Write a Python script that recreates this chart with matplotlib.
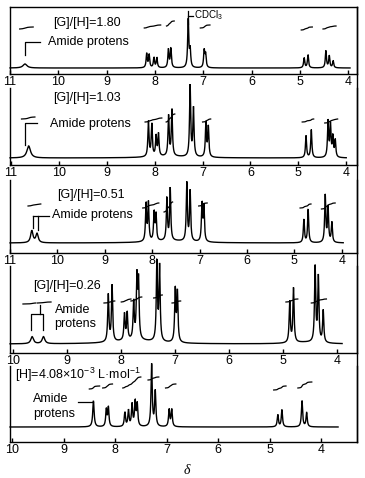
import numpy as np
import matplotlib
matplotlib.use('Agg')
import matplotlib.pyplot as plt
from matplotlib.lines import Line2D

plt.rcParams['font.family'] = ['Liberation Sans', 'DejaVu Sans']
plt.rcParams['mathtext.fontset'] = 'custom'
plt.rcParams['mathtext.rm'] = 'Liberation Sans'
plt.rcParams['mathtext.it'] = 'Liberation Sans:italic'

W, H = 365, 478

# ---------------- data (ppm, peak height in px, half width in ppm) -------------
panel_labels = ['[G]/[H]=1.80', '[G]/[H]=1.03', '[G]/[H]=0.51', '[G]/[H]=0.26',
                r'[H]=4.08×10$^{-3}$ L·mol$^{-1}$']

p1_ppm = [10.69, 8.17, 8.12, 8.02, 7.96, 7.72, 7.67, 7.31, 7.27, 6.98, 6.95, 4.91, 4.83, 4.46, 4.39, 4.31]
p1_h   = [4,     14,   13,   10,   10,   18,   19,   48,   17,   17,   13,   10,   13,   17,   12,   7]
p1_w   = [0.05] + [0.014] * 15

p2_ppm = [10.63, 8.13, 8.06, 7.97, 7.92, 7.71, 7.64, 7.26, 7.19, 6.93, 6.88, 4.84, 4.73, 4.38, 4.33, 4.28, 4.23, 7.7]
p2_h   = [12,    35,   32,   20,   22,   40,   46,   71,   48,   34,   30,   22,   28,   36,   32,   20,   17,   1.5]
p2_w   = [0.045] + [0.014] * 16 + [0.5]

p3_ppm = [10.54, 10.43, 8.13, 8.08, 7.96, 7.92, 7.69, 7.62, 7.27, 7.20, 6.95, 6.91, 4.80, 4.71, 4.35, 4.29, 4.21, 7.6]
p3_h   = [12,    9,     37,   38,   28,   26,   42,   52,   58,   50,   37,   35,   23,   33,   47,   35,   20,   2]
p3_w   = [0.03, 0.03] + [0.014] * 15 + [0.5]

p4_ppm = [9.65, 9.44, 8.24, 8.17, 7.94, 7.89, 7.77, 7.71, 7.68, 7.34, 7.29, 7.00, 6.96, 4.88, 4.81, 4.41, 4.35, 4.26, 7.75, 4.6]
p4_h   = [7,    7,    47,   56,   26,   27,   37,   60,   56,   78,   74,   52,   49,   41,   54,   75,   65,   32,   3.5,  1.5]
p4_w   = [0.03, 0.03] + [0.013] * 16 + [0.45, 0.3]

p5_ppm = [8.42, 8.17, 8.13, 7.81, 7.74, 7.67, 7.61, 7.57, 7.29, 7.22, 6.95, 6.90, 4.84, 4.76, 4.37, 4.28]
p5_h   = [26,   17,   19,   14,   16,   22,   24,   22,   62,   35,   17,   17,   12,   17,   26,   14]
p5_w   = [0.016] + [0.014] * 15

# integral traces: (ppm start, ppm end, image-y level, rise px)
p1_int = [(10.80, 10.52, 29, 2), (8.22, 7.88, 28, 3), (7.76, 7.60, 26, 5), (7.06, 6.86, 28, 3), (4.97, 4.74, 30, 3), (4.52, 4.25, 29, 3)]
p2_int = [(10.78, 10.50, 119, 2), (8.20, 7.85, 122, 4), (7.76, 7.58, 122, 8), (7.00, 6.83, 122, 3), (4.92, 4.68, 122, 3), (4.45, 4.18, 123, 4)]
p3_int = [(10.62, 10.35, 206, 2), (8.20, 7.86, 208, 5), (7.75, 7.57, 212, 10), (7.02, 6.84, 206, 3), (4.88, 4.65, 208, 4), (4.43, 4.14, 209, 6)]
p4_int = [(9.82, 9.58, 304, 1), (9.55, 9.30, 303, 1), (8.32, 8.12, 303, 2), (8.00, 7.82, 302, 3), (7.82, 7.62, 301, 4), (7.40, 7.24, 298, 3), (7.06, 6.90, 303, 2), (4.95, 4.73, 302, 3), (4.48, 4.20, 303, 4)]
p5_int = [(8.50, 8.30, 389, 3), (8.24, 8.05, 388, 4), (7.85, 7.50, 388, 11), (7.36, 7.15, 380, 3), (7.02, 6.82, 388, 4), (4.92, 4.68, 390, 4), (4.45, 4.18, 388, 6)]

# ---------------- layout (image pixels) ----------------
panels = [
    dict(top=7,   bot=74,  left=11.00, ppx=1/48.3, base=6,  end=3.96, ticks=range(11, 3, -1),
         ppm=p1_ppm, h=p1_h, w=p1_w, ints=p1_int),
    dict(top=88,  bot=165, left=11.02, ppx=1/47.9, base=7,  end=4.00, ticks=range(11, 3, -1),
         ppm=p2_ppm, h=p2_h, w=p2_w, ints=p2_int),
    dict(top=180, bot=253, left=11.00, ppx=1/47.4, base=10, end=3.97, ticks=range(11, 3, -1),
         ppm=p3_ppm, h=p3_h, w=p3_w, ints=p3_int),
    dict(top=266, bot=353, left=10.06, ppx=1/54.0, base=9,  end=3.91, ticks=range(10, 3, -1),
         ppm=p4_ppm, h=p4_h, w=p4_w, ints=p4_int),
    dict(top=366, bot=442, left=10.04, ppx=1/51.5, base=15, end=3.67, ticks=range(10, 3, -1),
         ppm=p5_ppm, h=p5_h, w=p5_w, ints=p5_int),
]
L, R = 10, 357

fig = plt.figure(figsize=(W / 100, H / 100), dpi=100)
fig.patch.set_facecolor('white')

def fx(x):
    return x / W

def fy(y):
    return 1 - y / H

def spectrum(x, ppm, h, w, base):
    y = np.full_like(x, float(base))
    for p0, hh, ww in zip(ppm, h, w):
        y += hh * ww**2 / ((x - p0)**2 + ww**2)
    return y

LW = 1.0
for i, P in enumerate(panels):
    ax = fig.add_axes([fx(L), fy(P['bot']), fx(R - L), (P['bot'] - P['top']) / H])
    right = P['left'] - (R - L) * P['ppx']
    ax.set_xlim(P['left'], right)
    ax.set_ylim(0, P['bot'] - P['top'])
    x = np.linspace(P['left'] - 0.001, P['end'], 9000)
    y = spectrum(x, P['ppm'], P['h'], P['w'], P['base'])
    ax.plot(x, y, color='black', lw=LW, clip_on=False, solid_joinstyle='miter')
    for a, b, ylev, rise in P['ints']:
        m = (x <= a) & (x >= b)
        xs = x[m]
        ys = y[m] - P['base']
        c = np.cumsum(ys)
        c = c / c[-1] * rise
        ax.plot(xs, (P['bot'] - ylev) + c, color='black', lw=0.9, clip_on=False)
    ax.set_xticks(list(P['ticks']))
    ax.set_xticklabels([str(t) for t in P['ticks']])
    ax.set_yticks([])
    ax.tick_params(axis='x', direction='in', length=3, width=LW, pad=1.5, labelsize=9)
    for s in ['left', 'right', 'bottom', 'top']:
        ax.spines[s].set_linewidth(LW)
    if i > 0:
        ax.spines['top'].set_visible(False)
    ax.patch.set_alpha(0)

fig.add_artist(Line2D([fx(R), fx(R)], [fy(7), fy(442)], color='black', lw=LW))

def line(xs, ys):
    fig.add_artist(Line2D([fx(v) for v in xs], [fy(v) for v in ys], color='black', lw=0.9))

def text(x, y, s, size=9, **kw):
    fig.text(fx(x), fy(y), s, fontsize=size, va='center', ha='left', **kw)

# panel 1
text(53, 23, panel_labels[0])
text(48, 42, 'Amide protens')
line([25, 25, 40], [55, 42, 42])
line([188, 188], [11, 24])
line([188, 193], [16, 16])
text(194, 15, r'CDCl$_3$', size=7)
# panel 2
text(53, 98, panel_labels[1])
text(50, 124, 'Amide protens')
line([25, 25, 37], [145, 123, 123])
# panel 3
text(57, 195, panel_labels[2])
text(52, 215, 'Amide protens')
line([33, 33], [228, 216])
line([33, 49], [216, 216])
line([38, 38], [216, 230])
# panel 4
text(33, 286, panel_labels[3])
text(55, 310, 'Amide')
text(54, 324, 'protens')
line([40, 40], [305, 314])
line([31, 31, 43, 43], [330, 314, 314, 330])
# panel 5
text(15, 375, panel_labels[4])
text(33, 399, 'Amide')
text(33, 414, 'protens')
line([78, 93], [402, 402])

fig.text(fx(187), fy(470), 'δ', fontsize=10, ha='center', va='center',
         family=['Liberation Serif', 'DejaVu Serif'], style='italic')

fig.savefig('out.png', dpi=100, facecolor='white')
